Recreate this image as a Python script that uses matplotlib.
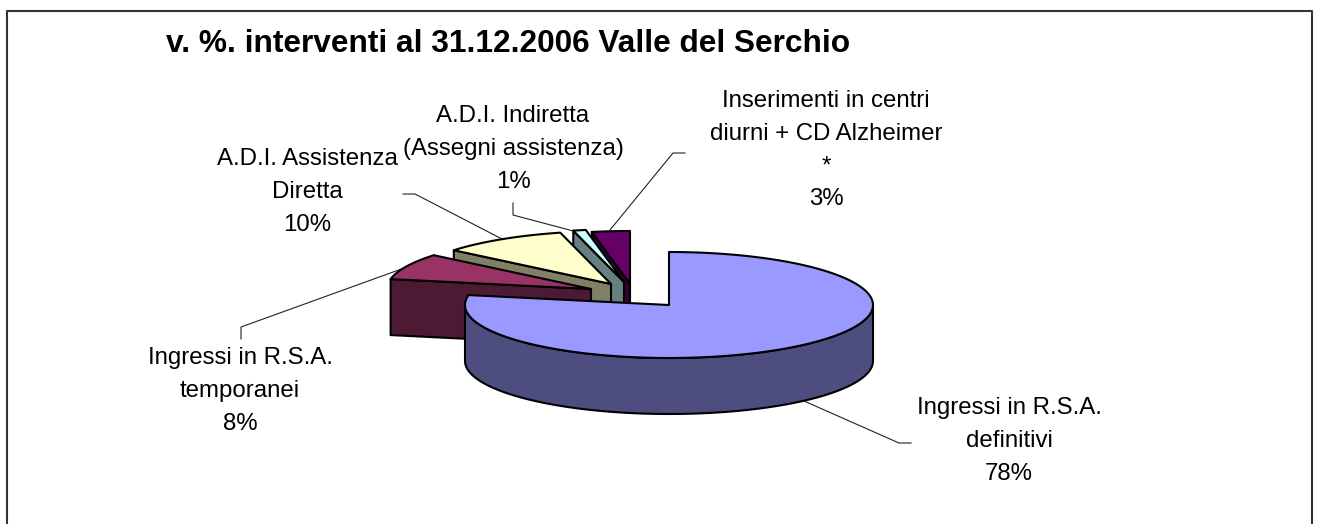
import numpy as np
import matplotlib
matplotlib.use('Agg')
import matplotlib.pyplot as plt
from matplotlib.patches import Polygon

plt.rcParams['font.family'] = ['Liberation Sans', 'DejaVu Sans']

title = 'v. %. interventi al 31.12.2006 Valle del Serchio'

# values, clockwise from 12 o'clock
categories = ['Ingressi in R.S.A.\ndefinitivi',
              'Ingressi in R.S.A.\ntemporanei',
              'A.D.I. Assistenza\nDiretta',
              'A.D.I. Indiretta\n(Assegni assistenza)',
              'Inserimenti in centri\ndiurni + CD Alzheimer\n*']
values = [78, 8, 10, 1, 3]
top_colors = ['#9999FF', '#993366', '#FFFFCC', '#CCFFFF', '#660066']
side_colors = ['#4D4D80', '#4D1A33', '#808066', '#668080', '#330033']

# pull-out of each slice, pixels
explode_x = [0, -78, -58, -45, -39]
explode_y = [0, -16, -21, -23, -21]

# label centres and leader lines, pixels
label_x = [1009, 240, 307, 513, 826]
label_y = [441, 391, 192, 149, 150]
leaders = [[(804, 401), (899, 443), (911, 443)],
           [(407, 267), (241, 327), (241, 339)],
           [(403, 194), (415, 194), (502, 239)],
           [(513, 203), (513, 215), (577, 232)],
           [(685, 153), (673, 153), (610, 230)]]

cx, cy = 669, 305
rx, ry = 204, 53
depth = 56


def arc(a0, a1, dx, dy):
    t = np.radians(np.linspace(a0, a1, max(int(abs(a1 - a0)), 2) + 1))
    return np.column_stack([cx + dx + rx * np.sin(t), cy + dy - ry * np.cos(t)])


def draw_slice(ax, a0, a1, dx, dy, top, side):
    apex = np.array([cx + dx, cy + dy])
    down = np.array([0, depth])
    edge = arc(a0, a1, dx, dy)

    # outer wall only where the rim faces the viewer
    w0, w1 = max(a0, 90), min(a1, 270)
    if w1 > w0:
        rim = arc(w0, w1, dx, dy)
        ax.add_patch(Polygon(np.vstack([rim, (rim + down)[::-1]]),
                             fc=side, ec='black', lw=1.5, joinstyle='round'))

    # cut face along the starting edge
    if a0 > 180:
        start = edge[0]
        ax.add_patch(Polygon([start, apex, apex + down, start + down],
                             fc=side, ec='black', lw=1.5, joinstyle='round'))

    ax.add_patch(Polygon(np.vstack([apex, edge]), fc=top, ec='black',
                         lw=1.5, joinstyle='round'))


fig = plt.figure(figsize=(13.17, 5.24), dpi=100)
ax = fig.add_axes([0, 0, 1, 1])
ax.set_xlim(0, 1317)
ax.set_ylim(524, 0)
ax.axis('off')

# chart frame, its bottom edge is cut off by the picture
ax.plot([7, 7, 1312, 1312], [530, 11, 11, 530], color='#333333', lw=1.5)

angles = np.concatenate([[0], np.cumsum(values) / np.sum(values) * 360])

# leader lines go under the pie
for pts in leaders:
    xs, ys = zip(*pts)
    ax.plot(xs, ys, color='#222222', lw=0.8, zorder=1)

# back slices first
for i in range(len(values) - 1, -1, -1):
    draw_slice(ax, angles[i], angles[i + 1], explode_x[i], explode_y[i],
               top_colors[i], side_colors[i])

for name, v, x, y in zip(categories, values, label_x, label_y):
    ax.text(x, y, f'{name}\n{v}%', ha='center', va='center', fontsize=17.3,
            linespacing=1.62, color='black')

ax.text(508, 52, title, ha='center', va='baseline', fontsize=22.8,
        fontweight='bold', color='black')

fig.savefig('out.png', dpi=100)
